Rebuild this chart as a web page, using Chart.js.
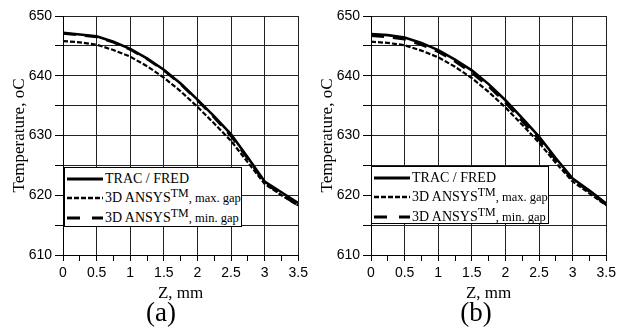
<!DOCTYPE html>
<html>
<head>
<meta charset="utf-8">
<script src="https://cdn.jsdelivr.net/npm/chart.js@4/dist/chart.umd.min.js"></script>
<style>
  body { margin:0; background:#fff; }
  #wrap { position:relative; width:621px; height:330px; background:#fff; overflow:hidden; }
  canvas { position:absolute; top:0; }
  .legend { position:absolute; background:#fff; border:1.5px solid #000; box-sizing:border-box;
            font-family:'Liberation Serif', serif; font-size:14px; color:#000; padding:1px 0 0 2px; }
  .legend .row { height:19.5px; display:flex; align-items:center; white-space:nowrap; }
  .legend svg { margin-right:2px; flex:none; }
  .legend sup { font-size:12px; vertical-align:5px; line-height:0; }
  .legend small { font-size:12.5px; }
  .cap { position:absolute; font-family:'Liberation Serif', serif; font-size:27px;
         transform:translateX(-50%); top:297px; }
</style>
</head>
<body>
<div id="wrap">
  <canvas id="chartA" width="312" height="330" style="left:0"></canvas>
  <canvas id="chartB" width="312" height="330" style="left:308px"></canvas>

  <div class="legend" style="left:64px;top:167px;width:178px;height:60px">
    <div class="row"><svg width="36" height="6"><line x1="0" y1="3" x2="36" y2="3" stroke="#000" stroke-width="3"/></svg><span>TRAC / FRED</span></div>
    <div class="row"><svg width="36" height="6"><line x1="0" y1="3" x2="36" y2="3" stroke="#000" stroke-width="2.5" stroke-dasharray="5,2"/></svg><span>3D ANSYS<sup>TM</sup><small>, max. gap</small></span></div>
    <div class="row"><svg width="36" height="6"><line x1="0" y1="3" x2="36" y2="3" stroke="#000" stroke-width="3" stroke-dasharray="13,12"/></svg><span>3D ANSYS<sup>TM</sup><small>, min. gap</small></span></div>
  </div>
  <div class="legend" style="left:371px;top:166px;width:178px;height:58px">
    <div class="row"><svg width="36" height="6"><line x1="0" y1="3" x2="36" y2="3" stroke="#000" stroke-width="3"/></svg><span>TRAC / FRED</span></div>
    <div class="row"><svg width="36" height="6"><line x1="0" y1="3" x2="36" y2="3" stroke="#000" stroke-width="2.5" stroke-dasharray="5,2"/></svg><span>3D ANSYS<sup>TM</sup><small>, max. gap</small></span></div>
    <div class="row"><svg width="36" height="6"><line x1="0" y1="3" x2="36" y2="3" stroke="#000" stroke-width="3" stroke-dasharray="13,12"/></svg><span>3D ANSYS<sup>TM</sup><small>, min. gap</small></span></div>
  </div>

  <div class="cap" style="left:161px">(a)</div>
  <div class="cap" style="left:476px">(b)</div>
</div>

<script>
// DATA
const zValues = [0, 0.25, 0.5, 0.75, 1, 1.25, 1.5, 1.75, 2, 2.25, 2.5, 2.75, 3, 3.25, 3.5];
const seriesNames = ["TRAC / FRED", "3D ANSYS TM, max. gap", "3D ANSYS TM, min. gap"];

// (a)
const tracA = [647.2, 646.9, 646.6, 645.7, 644.5, 642.9, 641.0, 638.7, 636.0, 633.2, 630.2, 626.3, 622.3, 620.5, 618.7];
const maxGapA = [645.8, 645.6, 645.2, 644.3, 643.2, 641.6, 639.7, 637.4, 634.8, 632.0, 629.1, 625.5, 621.9, 620.0, 618.3];
const minGapA = [647.1, 646.8, 646.5, 645.6, 644.4, 642.8, 640.9, 638.6, 635.9, 633.0, 629.9, 626.1, 622.1, 620.1, 618.3];

// (b)
const tracB = [647.0, 646.8, 646.4, 645.5, 644.3, 642.7, 640.9, 638.6, 635.9, 632.9, 629.8, 626.2, 622.8, 620.8, 618.6];
const maxGapB = [645.7, 645.5, 645.1, 644.2, 643.1, 641.5, 639.6, 637.3, 634.7, 631.8, 628.8, 625.4, 622.3, 620.3, 618.3];
const minGapB = [646.7, 646.5, 646.1, 645.2, 644.0, 642.4, 640.5, 638.2, 635.5, 632.4, 629.3, 625.9, 622.6, 620.6, 618.4];

const yMin = 610, yMax = 650, yStep = 5;
const xMin = 0, xMax = 3.5, xStep = 0.25;

const tickFont = { family: "'Liberation Sans', Arial, sans-serif", size: 14 };
const titleFont = { family: "'Liberation Serif', 'Times New Roman', serif", size: 17 };

function pts(ys){
    return zValues.map((z,i)=>({x:z, y:ys[i]}));
}

function makeChart(id, trac, maxGap, minGap){
    return new Chart(document.getElementById(id), {
        type: 'line',
        data: {
            datasets: [
                { label: seriesNames[0], data: pts(trac), borderColor:'#000', borderWidth:2.6, pointRadius:0, fill:false },
                { label: seriesNames[1], data: pts(maxGap), borderColor:'#000', borderWidth:2.2, borderDash:[5,2], pointRadius:0, fill:false },
                { label: seriesNames[2], data: pts(minGap), borderColor:'#000', borderWidth:2.6, borderDash:[13,9], pointRadius:0, fill:false }
            ]
        },
        options: {
            responsive: false,
            animation: false,
            layout: { padding: { top: 16, right: 10, bottom: 24, left: 0 } },
            plugins: { legend: { display:false }, tooltip: { enabled:false } },
            scales: {
                x: {
                    type: 'linear', min: xMin, max: xMax,
                    ticks: {
                        stepSize: xStep, color:'#000', font: tickFont, maxRotation:0, autoSkip:false, padding:4,
                        callback: v => (v % 0.5 === 0 ? String(v) : '')
                    },
                    grid: {
                        color: c => (c.tick && c.tick.value % 0.5 !== 0 ? 'rgba(0,0,0,0)' : '#222'),
                        tickColor: '#000', tickLength: 6, lineWidth: 1
                    },
                    border: { color:'#000', width:1 },
                    title: { display:true, text:'Z, mm', color:'#000', font:titleFont, padding:{top:0,bottom:2} },
                    afterFit: s => { s.height = 51; }
                },
                y: {
                    min: yMin, max: yMax,
                    ticks: {
                        stepSize: yStep, color:'#000', font: tickFont, padding: 3,
                        callback: v => (v % 10 === 0 ? String(v) : '')
                    },
                    grid: { color:'#222', tickColor:'#000', tickLength: 8, lineWidth: 1 },
                    border: { color:'#000', width:1 },
                    title: { display:true, text:'Temperature, oC', color:'#000', font:titleFont, padding:{top:9,bottom:0} },
                    afterFit: s => { s.width = 63; }
                }
            }
        }
    });
}

makeChart('chartA', tracA, maxGapA, minGapA);
makeChart('chartB', tracB, maxGapB, minGapB);
</script>
</body>
</html>
